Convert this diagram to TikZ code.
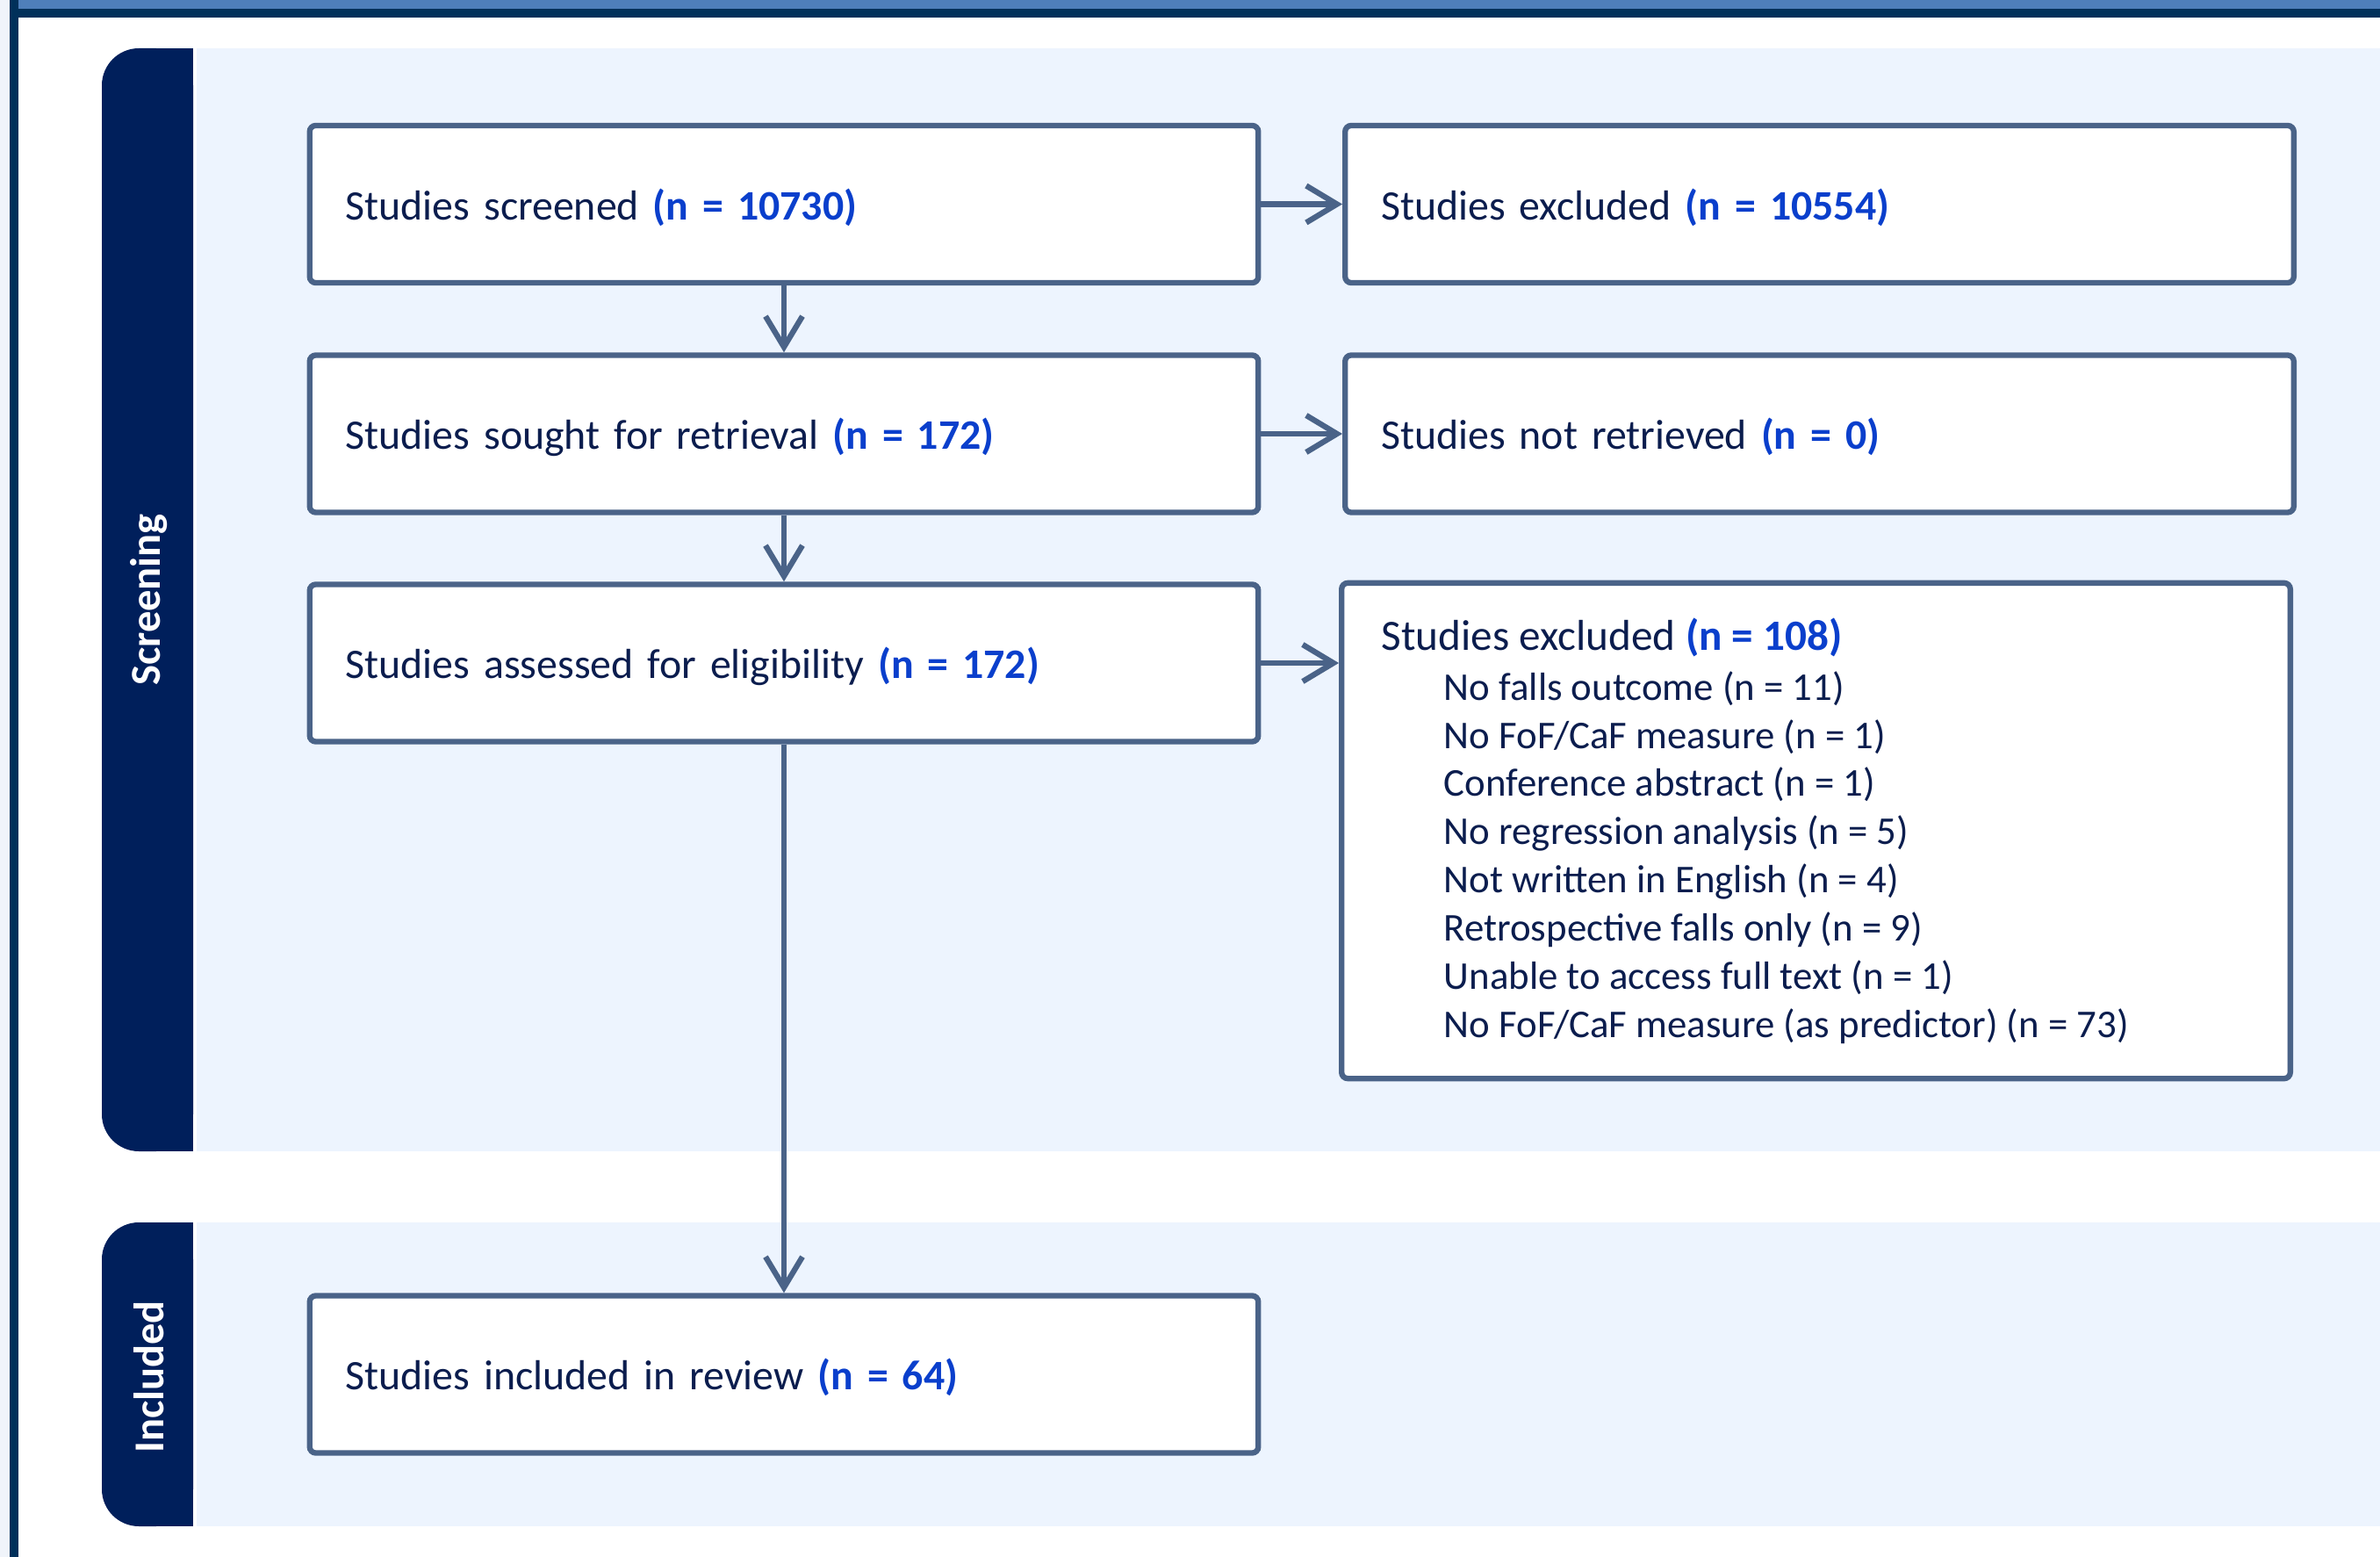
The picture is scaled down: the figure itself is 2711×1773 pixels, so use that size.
\documentclass[tikz,border=0pt]{standalone}
\usepackage{fontspec}
\setmainfont{Carlito}
\usetikzlibrary{arrows.meta}
\definecolor{framedark}{HTML}{00305A}
\definecolor{framesteel}{HTML}{4F7FBA}
\definecolor{framepale}{HTML}{F0F4FA}
\definecolor{tabnavy}{HTML}{001F5B}
\definecolor{bandblue}{HTML}{EDF4FE}
\definecolor{boxline}{HTML}{4A6388}
\definecolor{txtnavy}{HTML}{0B1D4E}
\definecolor{numblue}{HTML}{0A3FCC}
\newcommand{\nval}[1]{\textcolor{numblue}{\textbf{#1}}}
\newcommand{\reason}[1]{\hspace*{0.71cm}{\fontsize{12.75}{15.6}\selectfont #1}}
\begin{document}
\begin{tikzpicture}[x=0.01cm,y=-0.01cm]
    \tikzstyle{every node}+=[inner sep=0pt, text=txtnavy, font=\fontsize{14}{15.6}\selectfont]
    \tikzstyle{flowbox}=[draw=boxline, line width=1.8pt, fill=white, rounded corners=2pt, minimum width=10.8cm, minimum height=1.79cm, text width=9.98cm, text depth=0pt, align=left, font=\fontsize{13.6}{15.6}\selectfont]
    \tikzstyle{flowarrow}=[draw=boxline, line width=1.8pt, -{Straight Barb[length=0.35cm,width=0.42cm]}]
    \tikzstyle{tablabel}=[rotate=90, text=white, font=\fontsize{13.8}{16}\selectfont\bfseries]
    \useasboundingbox (0,0) rectangle (2711,1773);
    \fill [white] (0,0) rectangle (2711,1773);
    \fill [framepale] (0,0) rectangle (11,1773);
    \fill [framedark] (11,0) rectangle (21,1773);
    \fill [framesteel] (21,0) rectangle (2711,10);
    \fill [framedark] (21,10) rectangle (2711,20);
    \fill [bandblue] (224,55) rectangle (2711,1311);
    \fill [bandblue] (224,1392) rectangle (2711,1738);
    \fill [tabnavy, rounded corners=12] (116,55) rectangle (220,1311);
    \fill [tabnavy] (170,55) rectangle (220,1311);
    \fill [tabnavy, rounded corners=12] (116,1392) rectangle (220,1738);
    \fill [tabnavy] (170,1392) rectangle (220,1738);
    \node [tablabel] (screenlbl) at (170,683) {Screening};
    \node [tablabel] (includelbl) at (170,1568) {Included};
    \node [flowbox] (screened) at (893,232.5) {Studies screened \nval{(n = 10730)}};
    \node [flowbox] (sought) at (893,494) {Studies sought for retrieval \nval{(n = 172)}};
    \node [flowbox] (assessed) at (893,755) {Studies assessed for eligibility \nval{(n = 172)}};
    \node [flowbox] (inreview) at (893,1565) {Studies included in review \nval{(n = 64)}};
    \node [flowbox] (excluded) at (2072.5,232.5) {Studies excluded \nval{(n = 10554)}};
    \node [flowbox] (notretr) at (2072.5,494) {Studies not retrieved \nval{(n = 0)}};
    \node [flowbox, minimum height=5.64cm] (reasons) at (2068.5,946) {};
    \node [anchor=north west, align=left] (reasonlist) at (1573,703) {Studies excluded \nval{(n = 108)}\\[0.6pt]
        \reason{No falls outcome (n = 11)}\\
        \reason{No FoF/CaF measure (n = 1)}\\
        \reason{Conference abstract (n = 1)}\\
        \reason{No regression analysis (n = 5)}\\
        \reason{Not written in English (n = 4)}\\
        \reason{Retrospective falls only (n = 9)}\\
        \reason{Unable to access full text (n = 1)}\\
        \reason{No FoF/CaF measure (as predictor) (n = 73)}};
    \draw [flowarrow] (screened) -- (sought);
    \draw [flowarrow] (sought) -- (assessed);
    \draw [flowarrow] (assessed) -- (inreview);
    \draw [flowarrow] (screened) -- (excluded);
    \draw [flowarrow] (sought) -- (notretr);
    \draw [flowarrow] (assessed.east) -- (assessed.east -| reasons.west);
\end{tikzpicture}
\end{document}
